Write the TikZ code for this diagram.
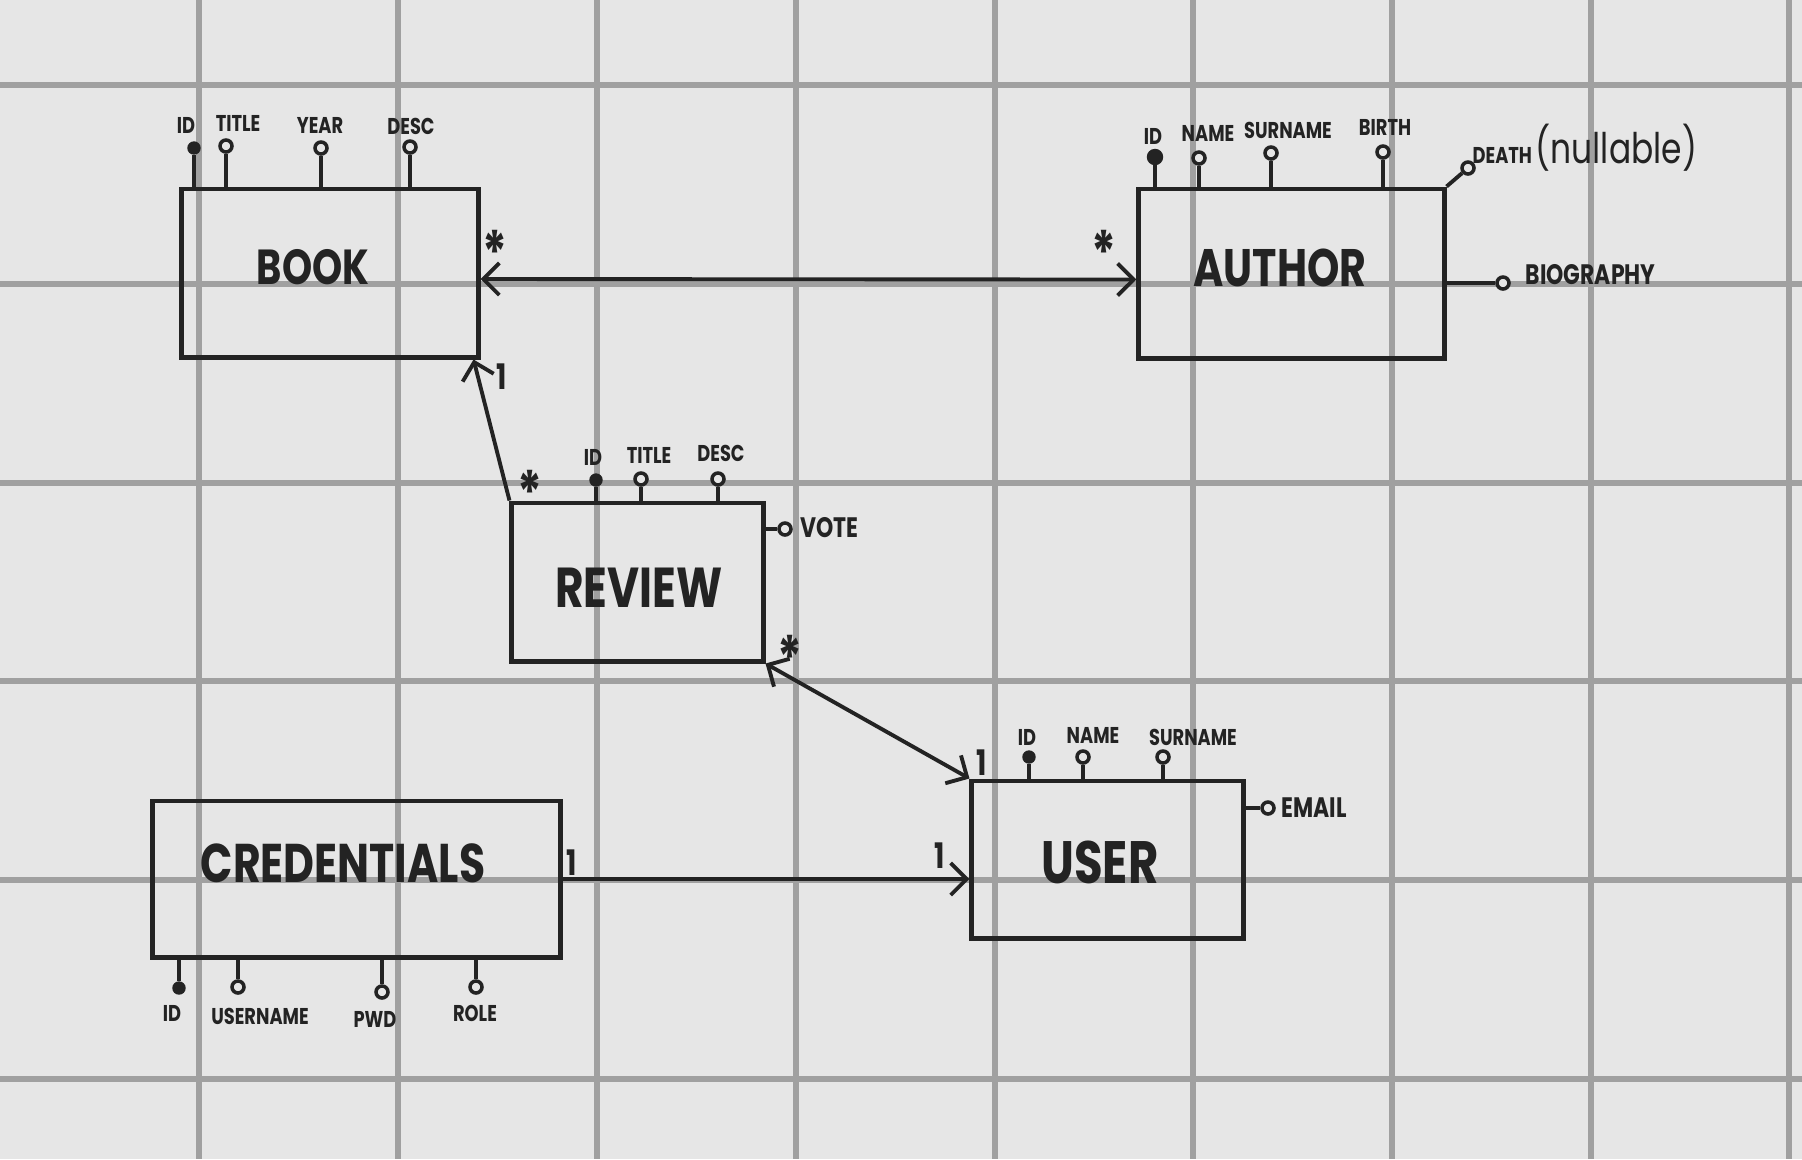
\documentclass[tikz,border=0pt]{standalone}
\usepackage{fontspec}
\newfontfamily\handf[FakeStretch=0.78]{Poppins}
\usetikzlibrary{arrows.meta,calc}
\definecolor{inkc}{HTML}{232323}
\definecolor{paperc}{HTML}{E6E6E6}
\definecolor{gridc}{HTML}{A0A0A0}
\tikzset{
  ent/.style={draw=inkc,line width=1.4pt,inner sep=0pt},
  ename/.style={font=\handf\bfseries,text=inkc,inner sep=0pt},
  pk/.style={circle,fill=inkc,draw=inkc,minimum size=0.12cm,inner sep=0pt},
  att/.style={circle,draw=inkc,line width=1pt,fill=paperc,minimum size=0.12cm,inner sep=0pt},
  stem/.style={draw=inkc,line width=1.1pt},
  alb/.style={font=\handf\bfseries\fontsize{6.5}{7}\selectfont,text=inkc,inner sep=0pt},
  slb/.style={font=\handf\bfseries\fontsize{8}{9}\selectfont,text=inkc,inner sep=0pt,anchor=west},
  mul/.style={font=\handf\bfseries\fontsize{10}{11}\selectfont,text=inkc,inner sep=0pt},
  star/.style={font=\handf\bfseries\fontsize{17}{17}\selectfont,text=inkc,inner sep=0pt},
  gline/.style={draw=gridc,line width=1.5pt},
  ar/.style={draw=inkc,line width=1.1pt,-{Straight Barb[length=1.6mm,width=3.2mm]}},
  arr/.style={draw=inkc,line width=1.1pt,{Straight Barb[length=1.6mm,width=3.2mm]}-{Straight Barb[length=1.6mm,width=3.2mm]}}
}
\begin{document}
\begin{tikzpicture}[x=0.01cm,y=-0.01cm]
\useasboundingbox (0,0) rectangle (1802,1159);
\fill[paperc] (0,0) rectangle (1802,1159);
\foreach \gx in {199,398,597,796,995,1193,1392,1591,1789}{\draw[gline] (\gx,0)--(\gx,1159);}
\foreach \gy in {85,284,483,681,880,1079}{\draw[gline] (0,\gy)--(1802,\gy);}
% entities
\node[ent,minimum width=2.96cm,minimum height=1.68cm] (book) at (330,273) {};
\node[ent,minimum width=3.05cm,minimum height=1.69cm] (author) at (1291.5,273.5) {};
\node[ent,minimum width=2.51cm,minimum height=1.58cm] (review) at (637.5,582) {};
\node[ent,minimum width=4.07cm,minimum height=1.56cm] (cred) at (356.5,879) {};
\node[ent,minimum width=2.71cm,minimum height=1.57cm] (user) at (1107.5,859.5) {};
\node[ename] (book-n) at (313,267) {\fontsize{14}{14}\selectfont BOOK};
\node[ename] (author-n) at (1280,268) {\fontsize{15}{15}\selectfont AUTHOR};
\node[ename] (review-n) at (639,588) {\fontsize{16}{16}\selectfont REVIEW};
\node[ename] (cred-n) at (343,863) {\fontsize{15.5}{16}\selectfont CREDENTIALS};
\node[ename] (user-n) at (1100,862) {\fontsize{17}{17}\selectfont USER};
% book attributes
\node[pk] (bid) at (194,148) {};
\node[alb] (bid-l) at (186,125) {ID};
\draw[stem] (bid) -- (bid |- book.north);
\foreach \n/\px/\py/\lx/\ly/\t in {btitle/226/146/238/123/TITLE,byear/321/148/320/125/YEAR,bdesc/410/147/411/126/DESC}{
  \node[att] (\n) at (\px,\py) {};
  \node[alb] (\n-l) at (\lx,\ly) {\t};
  \draw[stem] (\n) -- (\n |- book.north);
}
% author attributes
\node[pk,minimum size=0.15cm] (aid) at (1155,157) {};
\node[alb] (aid-l) at (1153,136) {ID};
\draw[stem] (aid) -- (aid |- author.north);
\foreach \n/\px/\py/\lx/\ly/\t in {aname/1199/158/1208/133/NAME,asurname/1271/153/1288/130/SURNAME,abirth/1383/152/1385/127/BIRTH}{
  \node[att] (\n) at (\px,\py) {};
  \node[alb] (\n-l) at (\lx,\ly) {\t};
  \draw[stem] (\n) -- (\n |- author.north);
}
\node[att] (adeath) at (1468,168) {};
\draw[stem] (author.north east) -- (adeath);
\node[alb,anchor=west] (adeath-l) at (1472,148) {DEATH {\mdseries\fontsize{12}{13}\selectfont(nullable)}};
\node[att] (abio) at (1503,283) {};
\draw[stem] (author.east |- abio) -- (abio);
\node[slb] (abio-l) at (1525,275) {BIOGRAPHY};
% review attributes
\node[pk] (rid) at (596,480) {};
\node[alb] (rid-l) at (593,457) {ID};
\draw[stem] (rid) -- (rid |- review.north);
\foreach \n/\px/\py/\lx/\ly/\t in {rtitle/641/479/649/455/TITLE,rdesc/718/479/721/453/DESC}{
  \node[att] (\n) at (\px,\py) {};
  \node[alb] (\n-l) at (\lx,\ly) {\t};
  \draw[stem] (\n) -- (\n |- review.north);
}
\node[att] (rvote) at (785,529) {};
\draw[stem] (review.east |- rvote) -- (rvote);
\node[slb] (rvote-l) at (800,528) {VOTE};
% credentials attributes
\node[pk] (cid) at (179,988) {};
\node[alb] (cid-l) at (172,1013) {ID};
\draw[stem] (cid) -- (cid |- cred.south);
\foreach \n/\px/\py/\lx/\ly/\t in {cuser/238/987/260/1016/USERNAME,cpwd/382/992/375/1019/PWD,crole/476/987/475/1013/ROLE}{
  \node[att] (\n) at (\px,\py) {};
  \node[alb] (\n-l) at (\lx,\ly) {\t};
  \draw[stem] (\n) -- (\n |- cred.south);
}
% user attributes
\node[pk] (uid) at (1029,757) {};
\node[alb] (uid-l) at (1027,737) {ID};
\draw[stem] (uid) -- (uid |- user.north);
\foreach \n/\px/\py/\lx/\ly/\t in {uname/1083/757/1093/735/NAME,usurname/1163/757/1193/737/SURNAME}{
  \node[att] (\n) at (\px,\py) {};
  \node[alb] (\n-l) at (\lx,\ly) {\t};
  \draw[stem] (\n) -- (\n |- user.north);
}
\node[att] (uemail) at (1268,808) {};
\draw[stem] (user.east |- uemail) -- (uemail);
\node[slb] (uemail-l) at (1281,808) {EMAIL};
% relations
\draw[arr] ([yshift=-0.06cm]book.east) -- ([yshift=-0.06cm]author.west);
\draw[ar] (review.north west) -- ([xshift=-0.07cm]book.south east);
\draw[arr] (user.north west) -- (review.south east);
\draw[ar] (cred.east) -- (cred.east -| user.west);
% multiplicities
\node[star] (m1) at (495,252) {*};
\node[star] (m2) at (1104,252) {*};
\node[star] (m3) at (530,492) {*};
\node[star] (m4) at (790,657) {*};
\node[mul] (m5) at (502,377) {1};
\node[mul] (m6) at (572,863) {1};
\node[mul] (m7) at (940,856) {1};
\node[mul] (m8) at (982,763) {1};
\end{tikzpicture}
\end{document}
